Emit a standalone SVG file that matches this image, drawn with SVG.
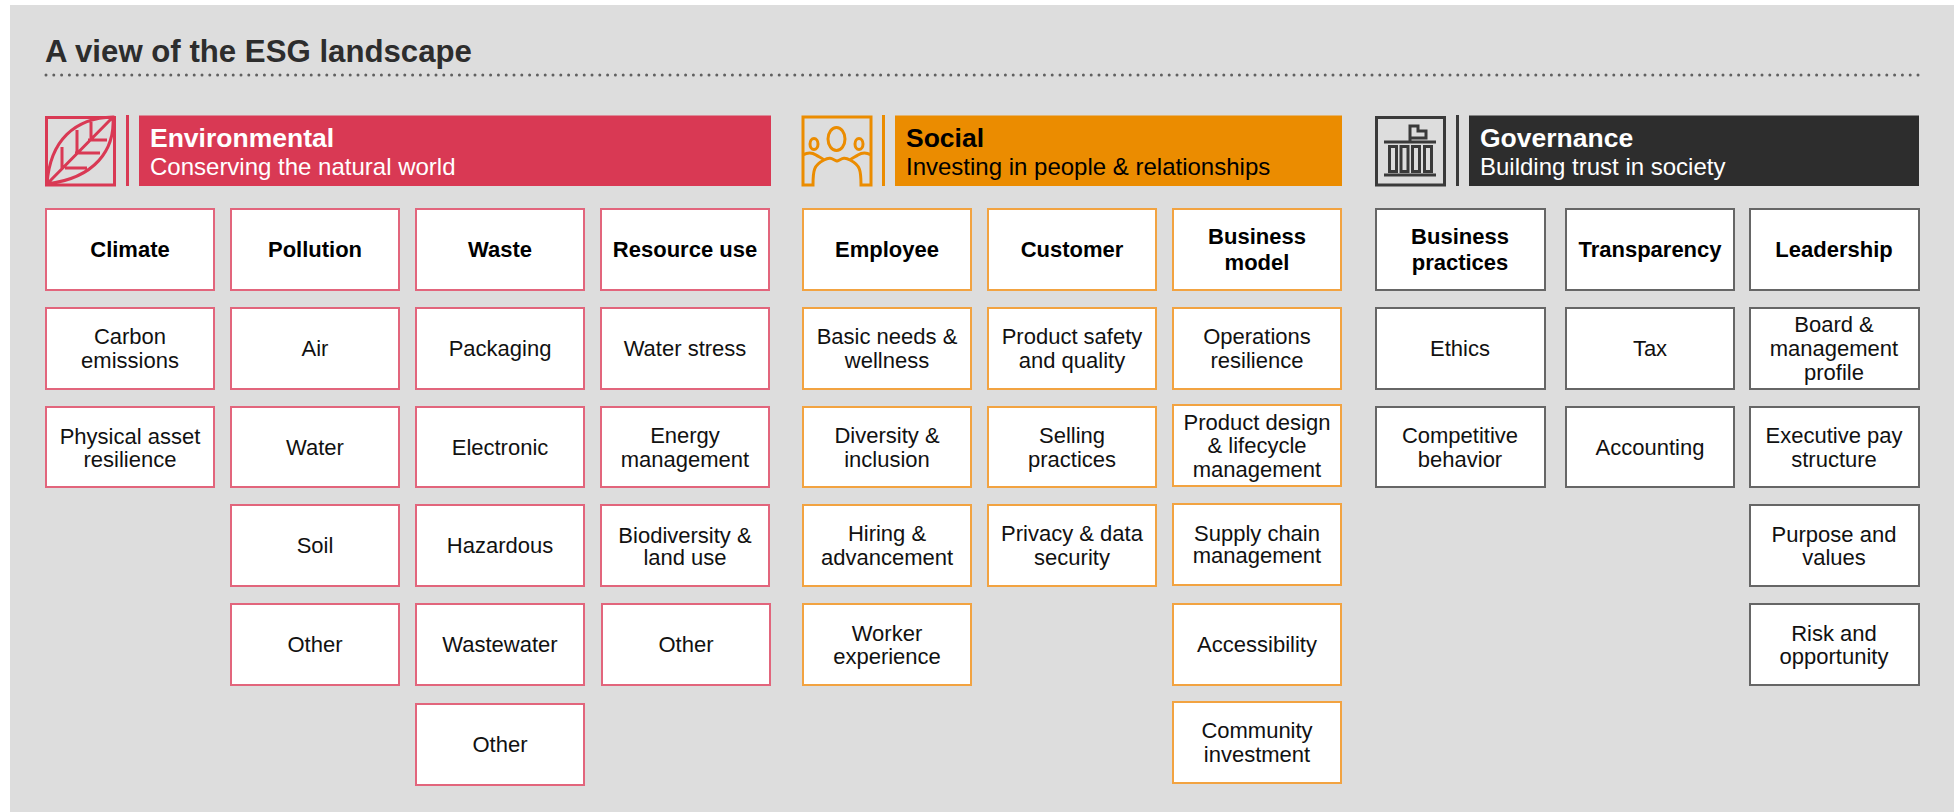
<svg xmlns="http://www.w3.org/2000/svg" width="1954" height="812" viewBox="0 0 1954 812">
<style>
text{font-family:"Liberation Sans",Arial,sans-serif}
.t{font-size:22px;fill:#111;text-anchor:middle}
.h{font-size:22px;font-weight:700;fill:#000;text-anchor:middle}
.e rect{fill:#fff;stroke:#e2657c;stroke-width:2}
.s rect{fill:#fff;stroke:#f2a341;stroke-width:2}
.g rect{fill:#fff;stroke:#666;stroke-width:2}
.i{fill:none;stroke-width:3}
.bt{font-size:26.500px;font-weight:700}
.bs{font-size:24px}
</style>
<rect x="10" y="5" width="1944" height="807" fill="#dddddd"/>
<text x="45" y="62" font-size="31.200" font-weight="700" fill="#2d2d2d">A view of the ESG landscape</text>
<line x1="46" y1="75" x2="1919" y2="75" stroke="#606060" stroke-width="3" stroke-linecap="round" stroke-dasharray="0 7.800"/>

<g id="header-environmental">
<g class="i" stroke="#d93954">
<rect x="46.500" y="117.500" width="68" height="67.500"/>
<path d="M47 184C50 140 75 118 113 117C115 150 95 178 47 184ZM47 184L113 117M62 168V147M77 153V130M91 140V122M65 168H87M75 153H100M88 140H107"/>
</g>
<rect x="126" y="115" width="3" height="71" fill="#d93954"/>
<rect x="139" y="115.500" width="632" height="70.500" fill="#d93954"/>
<text x="150" y="147" class="bt" fill="#fff">Environmental</text>
<text x="150" y="174.500" class="bs" fill="#fff">Conserving the natural world</text>
</g>
<g id="header-social">
<g class="i" stroke="#eb8c00">
<path d="M803 185V117H871V185H861C861 170 860 165 850 160C843 156 841 160 837 161C833 160 831 156 824 160C814 165 813 170 813 185ZM803 155C808 152 813 153 816 155C819 157 822 158 824 160M871 155C866 152 861 153 858 155C855 157 852 158 850 160"/>
<ellipse cx="836.500" cy="139" rx="8.500" ry="11.500"/>
<ellipse cx="814" cy="144" rx="4" ry="5.500"/>
<ellipse cx="859" cy="144" rx="4" ry="5.500"/>
</g>
<rect x="882" y="115" width="3" height="71" fill="#eb8c00"/>
<rect x="895" y="115.500" width="447" height="70.500" fill="#eb8c00"/>
<text x="906" y="147" class="bt" fill="#000">Social</text>
<text x="906" y="174.500" class="bs" fill="#000">Investing in people &amp; relationships</text>
</g>
<g id="header-governance">
<g class="i" stroke="#3a3a3a">
<rect x="1376.500" y="117.500" width="68" height="67.500"/>
<path d="M1384 142H1436M1384 175H1436M1410 142V126H1418V131H1426V138H1410"/>
<rect x="1389.500" y="146.500" width="7" height="25"/>
<rect x="1401" y="146.500" width="7" height="25"/>
<rect x="1412.500" y="146.500" width="7" height="25"/>
<rect x="1424.500" y="146.500" width="7" height="25"/>
</g>
<rect x="1456" y="115" width="3" height="71" fill="#3a3a3a"/>
<rect x="1469" y="115.500" width="450" height="70.500" fill="#2d2d2d"/>
<text x="1480" y="147" class="bt" fill="#fff">Governance</text>
<text x="1480" y="174.500" class="bs" fill="#fff">Building trust in society</text>
</g>

<g class="e">
<g id="climate"><rect x="46" y="209" width="168" height="81"/><text class="h" x="130" y="257">Climate</text></g>
<g id="pollution"><rect x="231" y="209" width="168" height="81"/><text class="h" x="315" y="257">Pollution</text></g>
<g id="waste"><rect x="416" y="209" width="168" height="81"/><text class="h" x="500" y="257">Waste</text></g>
<g id="resource-use"><rect x="601" y="209" width="168" height="81"/><text class="h" x="685" y="257">Resource use</text></g>
<g id="carbon"><rect x="46" y="308" width="168" height="81"/><text class="t" x="130" y="344">Carbon</text><text class="t" x="130" y="368">emissions</text></g>
<g id="physical"><rect x="46" y="407" width="168" height="80"/><text class="t" x="130" y="444">Physical asset</text><text class="t" x="130" y="467">resilience</text></g>
<g id="air"><rect x="231" y="308" width="168" height="81"/><text class="t" x="315" y="356">Air</text></g>
<g id="water"><rect x="231" y="407" width="168" height="80"/><text class="t" x="315" y="455">Water</text></g>
<g id="soil"><rect x="231" y="505" width="168" height="81"/><text class="t" x="315" y="553">Soil</text></g>
<g id="other-p"><rect x="231" y="604" width="168" height="81"/><text class="t" x="315" y="652">Other</text></g>
<g id="packaging"><rect x="416" y="308" width="168" height="81"/><text class="t" x="500" y="356">Packaging</text></g>
<g id="electronic"><rect x="416" y="407" width="168" height="80"/><text class="t" x="500" y="455">Electronic</text></g>
<g id="hazardous"><rect x="416" y="505" width="168" height="81"/><text class="t" x="500" y="553">Hazardous</text></g>
<g id="wastewater"><rect x="416" y="604" width="168" height="81"/><text class="t" x="500" y="652">Wastewater</text></g>
<g id="other-w"><rect x="416" y="704" width="168" height="81"/><text class="t" x="500" y="752">Other</text></g>
<g id="water-stress"><rect x="601" y="308" width="168" height="81"/><text class="t" x="685" y="356">Water stress</text></g>
<g id="energy"><rect x="601" y="407" width="168" height="80"/><text class="t" x="685" y="443">Energy</text><text class="t" x="685" y="467">management</text></g>
<g id="biodiversity"><rect x="601" y="505" width="168" height="81"/><text class="t" x="685" y="543">Biodiversity &amp;</text><text class="t" x="685" y="565">land use</text></g>
<g id="other-r"><rect x="602" y="604" width="168" height="81"/><text class="t" x="686" y="652">Other</text></g>
</g>

<g class="s">
<g id="employee"><rect x="803" y="209" width="168" height="81"/><text class="h" x="887" y="257">Employee</text></g>
<g id="customer"><rect x="988" y="209" width="168" height="81"/><text class="h" x="1072" y="257">Customer</text></g>
<g id="business-model"><rect x="1173" y="209" width="168" height="81"/><text class="h" x="1257" y="244">Business</text><text class="h" x="1257" y="270">model</text></g>
<g id="basic"><rect x="803" y="308" width="168" height="81"/><text class="t" x="887" y="344">Basic needs &amp;</text><text class="t" x="887" y="368">wellness</text></g>
<g id="diversity"><rect x="803" y="407" width="168" height="80"/><text class="t" x="887" y="443">Diversity &amp;</text><text class="t" x="887" y="467">inclusion</text></g>
<g id="hiring"><rect x="803" y="505" width="168" height="81"/><text class="t" x="887" y="541">Hiring &amp;</text><text class="t" x="887" y="565">advancement</text></g>
<g id="worker"><rect x="803" y="604" width="168" height="81"/><text class="t" x="887" y="641">Worker</text><text class="t" x="887" y="664">experience</text></g>
<g id="product-safety"><rect x="988" y="308" width="168" height="81"/><text class="t" x="1072" y="344">Product safety</text><text class="t" x="1072" y="368">and quality</text></g>
<g id="selling"><rect x="988" y="407" width="168" height="80"/><text class="t" x="1072" y="443">Selling</text><text class="t" x="1072" y="467">practices</text></g>
<g id="privacy"><rect x="988" y="505" width="168" height="81"/><text class="t" x="1072" y="541">Privacy &amp; data</text><text class="t" x="1072" y="565">security</text></g>
<g id="operations"><rect x="1173" y="308" width="168" height="81"/><text class="t" x="1257" y="344">Operations</text><text class="t" x="1257" y="368">resilience</text></g>
<g id="product-design"><rect x="1173" y="405" width="168" height="81"/><text class="t" x="1257" y="430">Product design</text><text class="t" x="1257" y="453">&amp; lifecycle</text><text class="t" x="1257" y="477">management</text></g>
<g id="supply"><rect x="1173" y="504" width="168" height="81"/><text class="t" x="1257" y="541">Supply chain</text><text class="t" x="1257" y="563">management</text></g>
<g id="accessibility"><rect x="1173" y="604" width="168" height="81"/><text class="t" x="1257" y="652">Accessibility</text></g>
<g id="community"><rect x="1173" y="702" width="168" height="81"/><text class="t" x="1257" y="738">Community</text><text class="t" x="1257" y="762">investment</text></g>
</g>

<g class="g">
<g id="business-practices"><rect x="1376" y="209" width="169" height="81"/><text class="h" x="1460" y="244">Business</text><text class="h" x="1460" y="270">practices</text></g>
<g id="transparency"><rect x="1566" y="209" width="168" height="81"/><text class="h" x="1650" y="257">Transparency</text></g>
<g id="leadership"><rect x="1750" y="209" width="169" height="81"/><text class="h" x="1834" y="257">Leadership</text></g>
<g id="ethics"><rect x="1376" y="308" width="169" height="81"/><text class="t" x="1460" y="356">Ethics</text></g>
<g id="competitive"><rect x="1376" y="407" width="169" height="80"/><text class="t" x="1460" y="443">Competitive</text><text class="t" x="1460" y="467">behavior</text></g>
<g id="tax"><rect x="1566" y="308" width="168" height="81"/><text class="t" x="1650" y="356">Tax</text></g>
<g id="accounting"><rect x="1566" y="407" width="168" height="80"/><text class="t" x="1650" y="455">Accounting</text></g>
<g id="board"><rect x="1750" y="308" width="169" height="81"/><text class="t" x="1834" y="332">Board &amp;</text><text class="t" x="1834" y="356">management</text><text class="t" x="1834" y="380">profile</text></g>
<g id="executive"><rect x="1750" y="407" width="169" height="80"/><text class="t" x="1834" y="443">Executive pay</text><text class="t" x="1834" y="467">structure</text></g>
<g id="purpose"><rect x="1750" y="505" width="169" height="81"/><text class="t" x="1834" y="542">Purpose and</text><text class="t" x="1834" y="565">values</text></g>
<g id="risk"><rect x="1750" y="604" width="169" height="81"/><text class="t" x="1834" y="641">Risk and</text><text class="t" x="1834" y="664">opportunity</text></g>
</g>
</svg>
